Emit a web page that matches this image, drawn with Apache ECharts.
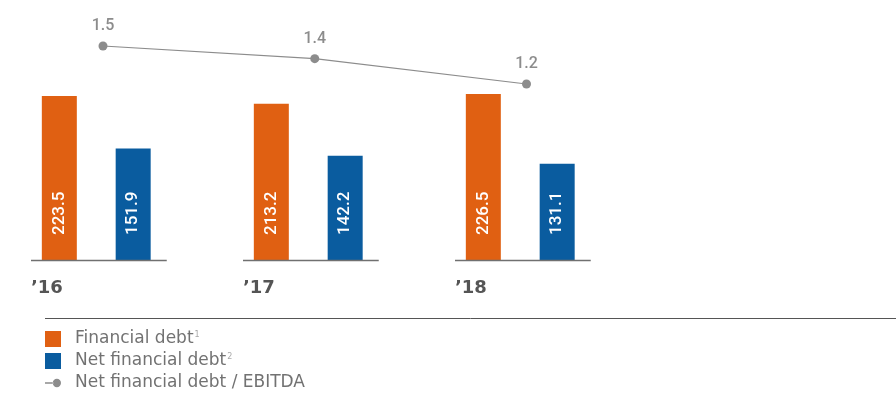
<!DOCTYPE html>
<html><head><meta charset="utf-8">
<script src="https://cdn.jsdelivr.net/npm/echarts@6/dist/echarts.min.js"></script>
<style>html,body{margin:0;padding:0;background:#fff}#c{width:896px;height:393px}</style>
</head><body><div id="c"></div>
<script>
const categories = ['\u201916', '\u201917', '\u201918'];
const financialDebt = [223.5, 213.2, 226.5];
const netFinancialDebt = [151.9, 142.2, 131.1];
const debtToEbitda = [1.5, 1.4, 1.2];
const seriesNames = ['Financial debt', 'Net financial debt', 'Net financial debt / EBITDA'];
const superscripts = ['1', '2', ''];

const ORANGE = '#E06012';
const BLUE = '#0A5C9F';
const GREY = '#8c8c8c';

const withIndex = arr => arr.map((v, i) => [i, v]);

const chart = echarts.init(document.getElementById('c'));
chart.setOption({
  animation: false,
  backgroundColor: '#fff',
  grid: [
    { left: 0, width: 700, top: 40, height: 220 },
    { left: 0, width: 700, top: 33.33, height: 76 }
  ],
  xAxis: [
    { type: 'value', gridIndex: 0, min: -96.25 / 212, max: (700 - 96.25) / 212, show: false },
    { type: 'value', gridIndex: 1, min: -103 / 211.75, max: (700 - 103) / 211.75, show: false }
  ],
  yAxis: [
    { type: 'value', gridIndex: 0, min: 0, max: 300, show: false },
    { type: 'value', gridIndex: 1, min: 1.0, max: 1.6, show: false }
  ],
  legend: {
    orient: 'vertical',
    left: 45, top: 330.5, height: 90, padding: 0,
    itemWidth: 16, itemHeight: 16, itemGap: 5,
    selectedMode: false,
    data: [
      { name: seriesNames[0], icon: 'rect' },
      { name: seriesNames[1], icon: 'rect' },
      { name: seriesNames[2], icon: 'path://M0,4.3L8,4.3L8,5.7L0,5.7Z M7.5,5a4,4,0,1,0,8,0a4,4,0,1,0,-8,0Z' }
    ],
    formatter: function (name) {
      const i = seriesNames.indexOf(name);
      return '{t|' + name + '}' + (superscripts[i] ? '{s|' + superscripts[i] + '}' : '');
    },
    textStyle: {
      padding: [0, 0, 0, 9],
      lineHeight: 16,
      rich: {
        t: { fontFamily: 'DejaVu Sans', fontSize: 17, lineHeight: 16, color: '#727272' },
        s: { fontFamily: 'DejaVu Sans', fontSize: 8, lineHeight: 16, color: '#a8a8a8', verticalAlign: 'top', padding: [0, 0, 0, 1] }
      }
    }
  },
  graphic: [
    { type: 'line', shape: { x1: 45, y1: 318.5, x2: 896, y2: 318.5 }, style: { stroke: '#555', lineWidth: 1 } }
  ],
  series: [
    {
      name: seriesNames[0], type: 'bar', xAxisIndex: 0, yAxisIndex: 0,
      data: withIndex(financialDebt), barWidth: 35, barGap: '111%',
      itemStyle: { color: ORANGE },
      label: { show: true, position: 'insideBottom', rotate: 90, align: 'left', verticalAlign: 'middle',
        distance: 25, color: '#fff', fontFamily: 'Roboto', fontWeight: 500, fontSize: 17, formatter: p => p.value[1].toFixed(1) }
    },
    {
      name: seriesNames[1], type: 'bar', xAxisIndex: 0, yAxisIndex: 0,
      data: withIndex(netFinancialDebt), barWidth: 35, barGap: '111%',
      itemStyle: { color: BLUE },
      label: { show: true, position: 'insideBottom', rotate: 90, align: 'left', verticalAlign: 'middle',
        distance: 25, color: '#fff', fontFamily: 'Roboto', fontWeight: 500, fontSize: 17, formatter: p => p.value[1].toFixed(1) }
    },
    {
      name: 'baseline', type: 'custom', xAxisIndex: 0, yAxisIndex: 0, silent: true,
      data: categories.map((c, i) => [i, 0]),
      renderItem: function (params, api) {
        const idx = api.value(0);
        const p = api.coord([idx, 0]);
        return {
          type: 'group',
          children: [
            { type: 'line', shape: { x1: p[0] - 65.25, y1: p[1] + 0.5, x2: p[0] + 70.5, y2: p[1] + 0.5 },
              style: { stroke: '#707070', lineWidth: 1.5 } },
            { type: 'text', x: p[0] - 65.25, y: p[1] + 28,
              style: { text: categories[idx], fill: '#555', fontFamily: 'DejaVu Sans', fontWeight: 'bold', fontSize: 18,
                align: 'left', verticalAlign: 'middle' } }
          ]
        };
      },
      z: 5
    },
    {
      name: seriesNames[2], type: 'line', xAxisIndex: 1, yAxisIndex: 1,
      data: withIndex(debtToEbitda), symbol: 'circle', symbolSize: 9, clip: false,
      itemStyle: { color: GREY },
      lineStyle: { color: GREY, width: 1.2 },
      label: { show: true, position: 'top', distance: 7, color: GREY, fontFamily: 'Roboto', fontWeight: 500, fontSize: 16,
        formatter: p => p.value[1].toFixed(1) }
    }
  ]
});
</script>
</body></html>
